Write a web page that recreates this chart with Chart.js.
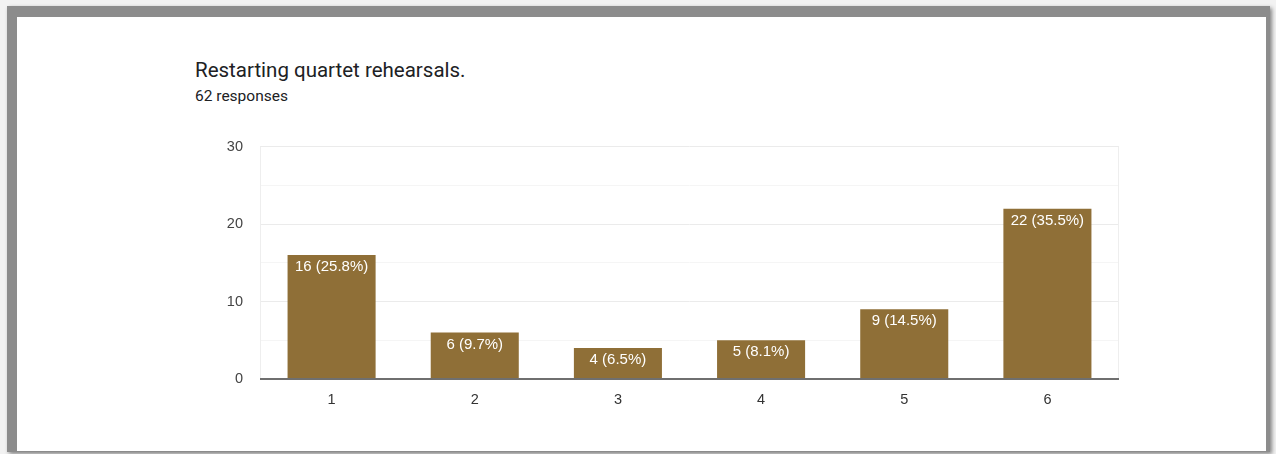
<!DOCTYPE html>
<html>
<head>
<meta charset="utf-8">
<script src="https://cdn.jsdelivr.net/npm/chart.js@4.4.1/dist/chart.umd.min.js"></script>
<style>
  html, body { margin: 0; padding: 0; }
  body { width: 1276px; height: 454px; background: #f2f2f2; position: relative; overflow: hidden; }
  #frame {
    position: absolute; left: 7px; top: 6px; width: 1263px; height: 446px;
    background: #8c8c8c; box-shadow: 2px 2px 4px rgba(0,0,0,0.45);
  }
  #card {
    position: absolute; left: 17px; top: 17px; width: 1249px; height: 434px; background: #fff;
  }
  #title {
    position: absolute; left: 195px; top: 58px; font-family: Roboto, "Noto Sans", sans-serif;
    font-size: 20.5px; color: #202124; white-space: nowrap;
  }
  #sub {
    position: absolute; left: 195px; top: 87px; font-family: Roboto, "Noto Sans", sans-serif;
    font-size: 15.5px; color: #202124; white-space: nowrap;
  }
  #wrap { position: absolute; left: 190px; top: 121px; width: 940px; height: 299px; }
</style>
</head>
<body>
<div id="frame"></div>
<div id="card"></div>
<div id="title">Restarting quartet rehearsals.</div>
<div id="sub">62 responses</div>
<div id="wrap"><canvas id="myChart"></canvas></div>
<script>
// Chart data
const categories = ['1', '2', '3', '4', '5', '6'];
const counts = [16, 6, 4, 5, 9, 22];
const percents = ['25.8%', '9.7%', '6.5%', '8.1%', '14.5%', '35.5%'];
const yTicks = [0, 10, 20, 30];

// labels inside the bars, near the top
const barLabels = {
    id: 'barLabels',
    afterDatasetsDraw(chart) {
        const ctx = chart.ctx;
        const meta = chart.getDatasetMeta(0);
        ctx.save();
        ctx.font = '15px "Liberation Sans", Arial, sans-serif';
        ctx.fillStyle = '#ffffff';
        ctx.textAlign = 'center';
        ctx.textBaseline = 'middle';
        meta.data.forEach((bar, i) => {
            ctx.fillText(counts[i] + ' (' + percents[i] + ')', bar.x, bar.y + 12);
        });
        ctx.restore();
    }
};

// faint side edges and the dark baseline
const frameLines = {
    id: 'frameLines',
    beforeDatasetsDraw(chart) {
        const { ctx, chartArea: a } = chart;
        ctx.save();
        ctx.strokeStyle = '#eeeeee';
        ctx.lineWidth = 1;
        ctx.beginPath();
        ctx.moveTo(a.left + 0.5, a.top);
        ctx.lineTo(a.left + 0.5, a.bottom);
        ctx.moveTo(a.right - 0.5, a.top);
        ctx.lineTo(a.right - 0.5, a.bottom);
        ctx.stroke();
        ctx.restore();
    },
    afterDatasetsDraw(chart) {
        const { ctx, chartArea: a } = chart;
        const y0 = chart.scales.y.getPixelForValue(0);
        ctx.save();
        ctx.strokeStyle = '#6f6f6f';
        ctx.lineWidth = 2;
        ctx.beginPath();
        ctx.moveTo(a.left, y0);
        ctx.lineTo(a.right, y0);
        ctx.stroke();
        ctx.restore();
    }
};

const config = {
    type: 'bar',
    data: {
        labels: categories,
        datasets: [{
            data: counts,
            backgroundColor: '#8f6f37',
            borderWidth: 0,
            barPercentage: 0.615,
            categoryPercentage: 1.0
        }]
    },
    options: {
        responsive: true,
        maintainAspectRatio: false,
        animation: false,
        layout: { padding: { top: 7, right: 11, bottom: 0, left: 0 } },
        plugins: {
            legend: { display: false },
            tooltip: { enabled: false }
        },
        scales: {
            x: {
                grid: { display: false },
                border: { display: false },
                ticks: {
                    color: '#333333',
                    font: { family: '"Liberation Sans", Arial, sans-serif', size: 14.5 },
                    padding: 4
                },
                afterFit(scale) { scale.height = 41; }
            },
            y: {
                min: 0,
                max: 30,
                border: { display: false },
                grid: {
                    drawTicks: false,
                    color: (c) => (c.tick && c.tick.value % 10 === 0) ? '#ebebeb' : '#f5f5f5'
                },
                ticks: {
                    stepSize: 5,
                    color: '#444444',
                    padding: 17,
                    font: { family: '"Liberation Sans", Arial, sans-serif', size: 14.5 },
                    callback: (v) => yTicks.includes(v) ? v : ''
                },
                afterFit(scale) { scale.width = 70; }
            }
        }
    },
    plugins: [frameLines, barLabels]
};

const myChart = new Chart(document.getElementById('myChart'), config);
</script>
</body>
</html>
